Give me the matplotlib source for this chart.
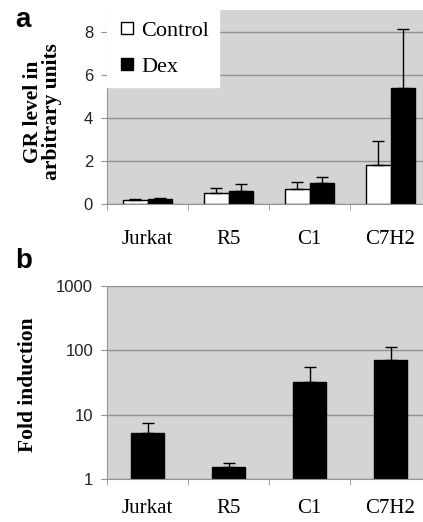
import numpy as np
import matplotlib
matplotlib.use('Agg')
import matplotlib.pyplot as plt
from matplotlib.lines import Line2D

cells = ['Jurkat', 'R5', 'C1', 'C7H2']
control = [0.19, 0.53, 0.68, 1.81]
control_err = [0.06, 0.23, 0.36, 1.09]
dex = [0.25, 0.62, 0.96, 5.36]
dex_err = [0.03, 0.30, 0.28, 2.77]
fold = [5.3, 1.55, 32, 71]
fold_err = [2.1, 0.25, 23, 44]

serif = 'Liberation Serif'
sans = 'Liberation Sans'
bg = '#d4d4d4'
grid = '#939393'

fig = plt.figure(figsize=(4.23, 5.22), dpi=100)

x = np.arange(len(cells))

def style(ax, pad):
	ax.set_facecolor(bg)
	ax.set_xlim(-0.5, len(cells)-0.5)
	ax.set_xticks(x)
	ax.set_xticklabels(cells, family=serif, fontsize=15)
	ax.set_xticks(np.arange(len(cells)+1)-0.5, minor=True)
	ax.tick_params(axis='x', which='major', length=0, pad=pad)
	ax.tick_params(axis='x', which='minor', length=4, color=grid, direction='out')
	ax.tick_params(axis='y', which='major', length=4, color=grid, labelsize=12, pad=6, labelcolor='#222222')
	for t in ax.get_yticklabels():
		t.set_family(sans)
	for s in ['top', 'right']:
		ax.spines[s].set_visible(False)
	ax.spines['left'].set_color(grid)
	ax.spines['bottom'].set_color(grid)
	ax.grid(axis='y', color=grid, linewidth=1.0)
	ax.set_axisbelow(True)

# panel a
ax1 = fig.add_axes([107/423, 1-204/522, 324/423, 194/522])
w = 0.3
ax1.bar(x-w/2, control, w, color='white', edgecolor='black', linewidth=1.0,
	yerr=[np.zeros(4), control_err], error_kw=dict(ecolor='black', elinewidth=1.0, capsize=4, capthick=1.0))
ax1.bar(x+w/2, dex, w, color='black', edgecolor='black', linewidth=1.0,
	yerr=[np.zeros(4), dex_err], error_kw=dict(ecolor='black', elinewidth=1.0, capsize=4, capthick=1.0))
ax1.set_ylim(0, 9)
ax1.set_yticks([0, 2, 4, 6, 8])
style(ax1, 19)
ax1.set_ylabel('GR level in\narbitrary units', family=serif, fontsize=15.5, fontweight='bold', linespacing=0.95)
ax1.yaxis.set_label_coords(-0.139, 0.474)
handles = [Line2D([], [], marker='s', linestyle='none', markerfacecolor='white', markeredgecolor='black', markersize=8),
	Line2D([], [], marker='s', linestyle='none', markerfacecolor='black', markeredgecolor='black', markersize=8)]
leg = ax1.legend(handles, ['Control', 'Dex'], loc='upper left', bbox_to_anchor=(0.0, 1.0), frameon=True, fancybox=False,
	prop={'family': serif, 'size': 16}, handletextpad=0.2, labelspacing=0.7, borderaxespad=0, borderpad=0.45, handlelength=0.9)
leg.get_frame().set_facecolor('white')
leg.get_frame().set_edgecolor('white')
leg.get_frame().set_alpha(1)

# panel b
ax2 = fig.add_axes([107/423, 1-479.3/522, 324/423, 193.3/522])
ax2.bar(x, fold, 0.41, color='black', edgecolor='black',
	yerr=[np.zeros(4), fold_err], error_kw=dict(ecolor='black', elinewidth=1.0, capsize=4, capthick=1.0))
ax2.set_yscale('log')
ax2.set_ylim(1, 1000)
ax2.set_yticks([1, 10, 100, 1000])
ax2.set_yticklabels(['1', '10', '100', '1000'])
ax2.minorticks_off()
style(ax2, 14)
ax2.set_ylabel('Fold induction', family=serif, fontsize=15.5, fontweight='bold')
ax2.yaxis.set_label_coords(-0.213, 0.49)

fig.text(15/423, 1-27/522, 'a', family=sans, fontweight='bold', fontsize=20)
fig.text(15/423, 1-268/522, 'b', family=sans, fontweight='bold', fontsize=20)

plt.savefig('out.png', dpi=100)
